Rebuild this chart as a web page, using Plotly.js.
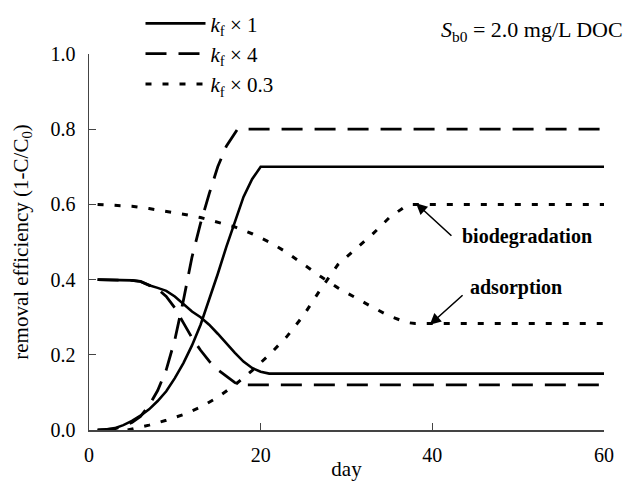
<!DOCTYPE html>
<html>
<head>
<meta charset="utf-8">
<script src="https://cdn.plot.ly/plotly-3.0.1.min.js"></script>
<style>html,body{margin:0;padding:0;background:#fff;}#chart{width:629px;height:481px;}</style>
</head>
<body>
<div id="chart"></div>
<script>
// kf x 1
const day_kf1_ads = [1, 3, 5, 6, 7, 8, 9, 10, 11, 12, 13, 14, 15, 16, 17, 18, 19, 20, 21, 60];
const ads_kf1     = [0.4, 0.4, 0.398, 0.395, 0.385, 0.378, 0.37, 0.355, 0.335, 0.315, 0.3, 0.28, 0.256, 0.23, 0.205, 0.182, 0.165, 0.155, 0.15, 0.15];
const day_kf1_bio = [1, 2, 3, 4, 5, 6, 7, 8, 9, 10, 11, 12, 13, 14, 15, 16, 17, 18, 19, 20, 60];
const bio_kf1     = [0, 0.001, 0.005, 0.013, 0.024, 0.038, 0.055, 0.077, 0.103, 0.138, 0.178, 0.225, 0.28, 0.345, 0.415, 0.487, 0.555, 0.62, 0.667, 0.7, 0.7];
// kf x 4
const day_kf4_ads = [1, 3, 5, 6, 7, 8, 9, 10, 11, 12, 13, 14, 15, 16, 17, 17.5, 60];
const ads_kf4     = [0.4, 0.4, 0.398, 0.395, 0.385, 0.375, 0.355, 0.325, 0.285, 0.245, 0.212, 0.183, 0.16, 0.142, 0.126, 0.12, 0.12];
const day_kf4_bio = [1, 3, 4, 5, 6, 7, 8, 9, 10, 11, 12, 13, 14, 15, 16, 17, 17.3, 60];
const bio_kf4     = [0, 0.003, 0.01, 0.02, 0.036, 0.065, 0.105, 0.16, 0.24, 0.345, 0.46, 0.55, 0.628, 0.7, 0.755, 0.79, 0.8, 0.8];
// kf x 0.3
const day_kf03_ads = [1, 3, 5, 7, 9, 11, 13, 15, 17, 19, 21, 23, 25, 27, 29, 31, 33, 35, 37, 38, 60];
const ads_kf03     = [0.6, 0.598, 0.595, 0.589, 0.582, 0.574, 0.565, 0.553, 0.54, 0.522, 0.5, 0.473, 0.44, 0.408, 0.378, 0.352, 0.327, 0.303, 0.286, 0.283, 0.283];
const day_kf03_bio = [4.5, 6, 7, 9, 11, 13, 15, 17, 19, 21, 23, 25, 27, 29, 31, 33, 35, 37, 37.6, 60];
const bio_kf03     = [0, 0.008, 0.013, 0.026, 0.041, 0.061, 0.087, 0.12, 0.158, 0.2, 0.247, 0.305, 0.375, 0.44, 0.48, 0.52, 0.565, 0.597, 0.6, 0.6];

const seriesNames = ['<i>k</i><sub>f</sub> × 1', '<i>k</i><sub>f</sub> × 4', '<i>k</i><sub>f</sub> × 0.3'];
const xTicks = [0, 20, 40, 60];
const yTicks = [0, 0.2, 0.4, 0.6, 0.8, 1.0];

const FONT = 'Times New Roman, Liberation Serif, serif';
const styles = [
  {color: '#000', width: 2.6, dash: 'solid'},
  {color: '#000', width: 2.8, dash: '21px,12px'},
  {color: '#000', width: 3, dash: '6px,11px'}
];

function tr(x, y, i, show) {
  return {x: x, y: y, type: 'scatter', mode: 'lines', line: styles[i],
    name: seriesNames[i], legendgroup: 'g' + i, showlegend: show, hoverinfo: 'skip'};
}

const data = [
  tr(day_kf1_bio, bio_kf1, 0, true), tr(day_kf1_ads, ads_kf1, 0, false),
  tr(day_kf4_bio, bio_kf4, 1, true), tr(day_kf4_ads, ads_kf4, 1, false),
  tr(day_kf03_bio, bio_kf03, 2, true), tr(day_kf03_ads, ads_kf03, 2, false)
];

const layout = {
  width: 629, height: 481,
  margin: {l: 89, r: 25, t: 54, b: 51, autoexpand: false},
  paper_bgcolor: '#fff', plot_bgcolor: '#fff',
  font: {family: FONT, size: 19, color: '#000'},
  showlegend: true,
  legend: {x: 0.1, y: 1.135, xanchor: 'left', yanchor: 'top', bgcolor: 'rgba(0,0,0,0)',
    font: {family: FONT, size: 21, color: '#000'}, itemwidth: 60, tracegroupgap: 8, traceorder: 'normal'},
  xaxis: {range: [0, 60], tickvals: xTicks, ticktext: xTicks.map(String), ticks: 'inside', ticklen: 7,
    tickcolor: '#444', showline: true, linecolor: '#444', linewidth: 1.5, showgrid: false, zeroline: false,
    tickfont: {family: FONT, size: 20}, ticklabelstandoff: 6,
    title: {text: 'day', font: {family: FONT, size: 21}, standoff: 12}},
  yaxis: {range: [0, 1.0], tickvals: yTicks, ticktext: yTicks.map(v => v.toFixed(1)), ticks: 'inside', ticklen: 7,
    tickcolor: '#444', showline: true, linecolor: '#444', linewidth: 1.5, showgrid: false, zeroline: false,
    tickfont: {family: FONT, size: 20}, ticklabelstandoff: 8,
    title: {text: 'removal efficiency (1-C/C<sub>0</sub>)', font: {family: FONT, size: 21}, standoff: 16}},
  annotations: [
    {xref: 'paper', yref: 'paper', x: 1.04, y: 1.06, xanchor: 'right', yanchor: 'middle', showarrow: false,
      text: '<i>S</i><sub>b0</sub> = 2.0 mg/L DOC', font: {family: FONT, size: 22}},
    {x: 51.0, y: 0.514, text: '<b>biodegradation</b>', showarrow: false, font: {family: FONT, size: 20}},
    {x: 49.8, y: 0.378, text: '<b>adsorption</b>', showarrow: false, font: {family: FONT, size: 20}},
    {x: 38.1, y: 0.603, ax: 42.4, ay: 0.513, axref: 'x', ayref: 'y', text: '', showarrow: true,
      arrowhead: 2, arrowsize: 1.4, arrowwidth: 1.6, arrowcolor: '#000', standoff: 0},
    {x: 39.7, y: 0.28, ax: 43.7, ay: 0.362, axref: 'x', ayref: 'y', text: '', showarrow: true,
      arrowhead: 2, arrowsize: 1.4, arrowwidth: 1.6, arrowcolor: '#000', standoff: 0}
  ]
};

Plotly.newPlot('chart', data, layout, {staticPlot: true, displayModeBar: false});
</script>
</body>
</html>
